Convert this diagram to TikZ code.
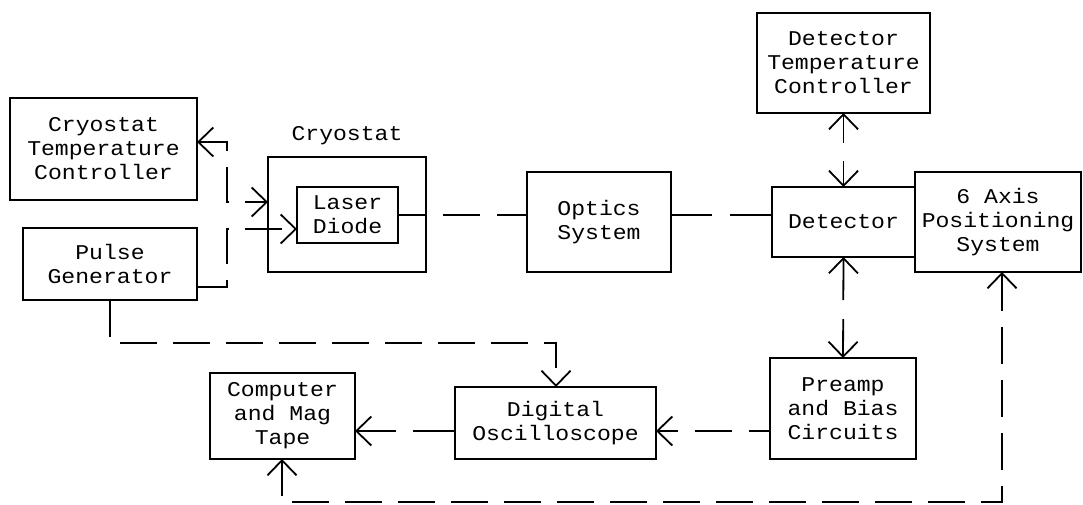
\documentclass[tikz,border=0pt]{standalone}
\usepackage{fontspec}
\setmainfont{Liberation Mono}[FakeStretch=1.1]
\usetikzlibrary{arrows.meta}
\begin{document}
\begin{tikzpicture}[x=1pt,y=-1pt,
  box/.style={draw,line width=1.8pt,inner sep=0pt,outer sep=0pt,align=center,
    font=\fontsize{21}{24}\selectfont},
  lbl/.style={inner sep=0pt,align=center,font=\fontsize{21}{24}\selectfont},
  conn/.style={line width=1.8pt,dash pattern=on 37pt off 16pt},
  >={Straight Barb[length=15pt,width=29pt]}]
\useasboundingbox (0,0) rectangle (1083,505);

% boxes
\node[box,minimum width=187pt,minimum height=102pt] (ctc) at (103.5,149) {Cryostat\\Temperature\\Controller};
\node[box,minimum width=174pt,minimum height=72pt] (pg) at (110,264) {Pulse\\Generator};
\node[box,minimum width=158pt,minimum height=115pt] (cryo) at (347,214.5) {};
\node[lbl] (cryolbl) at (347,136) {Cryostat};
\node[box,minimum width=101pt,minimum height=56pt] (ld) at (347.5,215) {Laser\\Diode};
\node[box,minimum width=144pt,minimum height=100pt] (opt) at (599,222) {Optics\\System};
\node[box,minimum width=143pt,minimum height=70pt] (det) at (843.5,222) {Detector};
\node[box,minimum width=173pt,minimum height=100pt] (dtc) at (843.5,63) {Detector\\Temperature\\Controller};
\node[box,minimum width=166pt,minimum height=100pt] (ax) at (998,222) {6 Axis\\Positioning\\System};
\node[box,minimum width=146pt,minimum height=101pt] (pre) at (843,408.5) {Preamp\\and Bias\\Circuits};
\node[box,minimum width=201pt,minimum height=72pt] (dso) at (555.5,423) {Digital\\Oscilloscope};
\node[box,minimum width=145pt,minimum height=86pt] (cmp) at (282.5,416) {Computer\\and Mag\\Tape};

% helper coordinates
\coordinate (c1) at (227,142);
\coordinate (c2) at (227,202);
\coordinate (p1) at (227,287);
\coordinate (p2) at (227,229);
\coordinate (q1) at (110,343);
\coordinate (q2) at (556,343);
\coordinate (r1) at (1002,502);
\coordinate (r2) at (282,502);
\coordinate (s1) at (0,431);

% connectors
\draw[conn,<->] (ctc.east |- c1) -- (c1) -- (c2) -- (cryo.west |- c2);
\draw[conn,->] (pg.east |- p1) -- (p1) -- (p2) -- (ld.west |- p2);
\draw[conn,dash pattern=on 37pt off 17pt,dash phase=9pt] (ld.east) -- (opt.west |- ld.east);
\draw[conn,dash pattern=on 41pt off 18pt] (opt.east |- ld.east) -- (det.west |- ld.east);
\draw[conn,dash pattern=on 28pt off 18pt,<->] (dtc.south) -- (det.north);
\draw[conn,dash pattern=on 41pt off 19pt,<->] (det.south) -- (pre.north);
\draw[conn,dash pattern=on 37pt off 17pt,dash phase=16pt,->] (pre.west |- s1) -- (dso.east |- s1);
\draw[conn,dash pattern=on 42pt off 17pt,->] (dso.west |- s1) -- (cmp.east |- s1);
\draw[conn,->] (pg.south -| q1) -- (q1) -- (q2) -- (dso.north -| q2);
\draw[conn,<->] (ax.south -| r1) -- (r1) -- (r2) -- (cmp.south -| r2);
\end{tikzpicture}
\end{document}
